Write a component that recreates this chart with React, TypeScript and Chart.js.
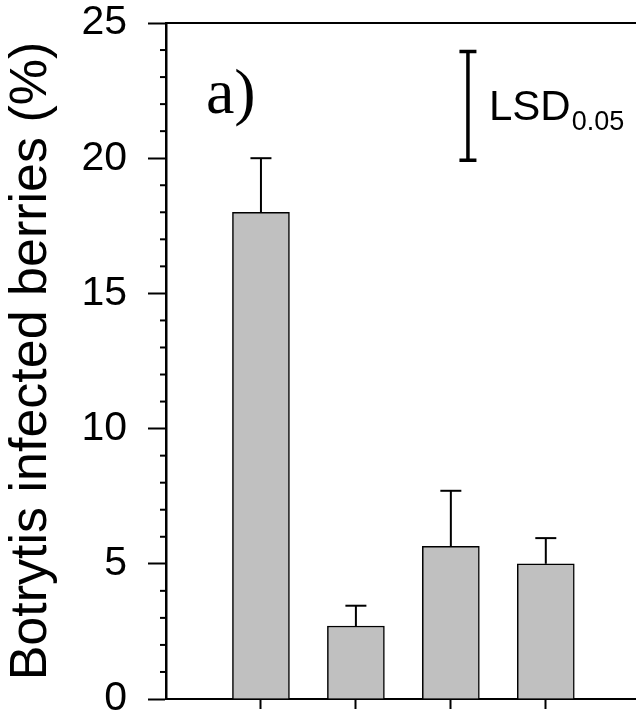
import React, { useEffect, useRef } from 'react';
import { Chart, registerables } from 'chart.js';

Chart.register(...registerables);

// ---- data ----
const positions = [1, 2, 3, 4];
const means = [18.0, 2.7, 5.65, 5.0];
const errors = [2.0, 0.75, 2.05, 0.95];
const yTickValues = [0, 5, 10, 15, 20, 25];
const yTitle = 'Botrytis infected berries (%)';
const panelLabel = 'a)';
const lsdLow = 19.92;
const lsdHigh = 23.95;
const lsdMain = 'LSD';
const lsdSub = '0.05';
// annotation anchor positions in data units
const lsdAt = 3.18;
const panelAt = { x: 0.42, y: 21.67 };

const SANS = "'Liberation Sans', Arial, Helvetica, sans-serif";
const SERIF = "'Liberation Serif', 'Times New Roman', serif";

const decor = {
  id: 'decor',
  afterDatasetsDraw(chart: any) {
    const ctx = chart.ctx as CanvasRenderingContext2D;
    const xs = chart.scales.x;
    const ys = chart.scales.y;
    const ca = chart.chartArea;
    ctx.save();
    ctx.strokeStyle = '#000';
    ctx.fillStyle = '#000';
    ctx.lineCap = 'butt';

    // minor y ticks
    ctx.lineWidth = 2;
    for (let v = ys.min; v <= ys.max; v += 1) {
      if (v % 5 === 0) continue;
      const py = ys.getPixelForValue(v);
      ctx.beginPath();
      ctx.moveTo(ca.left - 6, py);
      ctx.lineTo(ca.left, py);
      ctx.stroke();
    }

    // top frame
    ctx.beginPath();
    ctx.moveTo(ca.left, ca.top);
    ctx.lineTo(ca.right, ca.top);
    ctx.stroke();

    // error bars
    const meta = chart.getDatasetMeta(0);
    meta.data.forEach((bar: any, i: number) => {
      const px = bar.x;
      const yb = ys.getPixelForValue(means[i]);
      const yt = ys.getPixelForValue(means[i] + errors[i]);
      ctx.lineWidth = 2;
      ctx.beginPath();
      ctx.moveTo(px, yb);
      ctx.lineTo(px, yt);
      ctx.stroke();
      ctx.beginPath();
      ctx.moveTo(px - 10.5, yt);
      ctx.lineTo(px + 10.5, yt);
      ctx.stroke();
    });

    // LSD bar
    const lx = xs.getPixelForValue(lsdAt);
    const l1 = ys.getPixelForValue(lsdLow);
    const l2 = ys.getPixelForValue(lsdHigh);
    ctx.lineWidth = 3.5;
    ctx.beginPath();
    ctx.moveTo(lx, l1);
    ctx.lineTo(lx, l2);
    ctx.stroke();
    ctx.beginPath();
    ctx.moveTo(lx - 8.5, l1);
    ctx.lineTo(lx + 8.5, l1);
    ctx.moveTo(lx - 8.5, l2);
    ctx.lineTo(lx + 8.5, l2);
    ctx.stroke();

    // LSD text
    const mid = (l1 + l2) / 2;
    ctx.textAlign = 'left';
    ctx.textBaseline = 'alphabetic';
    ctx.font = `42px ${SANS}`;
    const tx = lx + 21;
    const baseMain = mid + 14.5;
    ctx.fillText(lsdMain, tx, baseMain);
    const w = ctx.measureText(lsdMain).width;
    ctx.font = `27px ${SANS}`;
    ctx.fillText(lsdSub, tx + w + 1, baseMain + 10);

    // panel label
    ctx.font = `64px ${SERIF}`;
    ctx.fillText(panelLabel, xs.getPixelForValue(panelAt.x), ys.getPixelForValue(panelAt.y));

    ctx.restore();
  },
};

export default function App() {
  const ref = useRef<HTMLCanvasElement | null>(null);
  useEffect(() => {
    if (!ref.current) return;
    const chart = new Chart(ref.current, {
      type: 'bar',
      data: {
        datasets: [
          {
            data: positions.map((p, i) => ({ x: p, y: means[i] })),
            backgroundColor: '#c0c0c0',
            borderColor: '#000',
            borderWidth: 1.5,
            barThickness: 57,
          },
        ],
      },
      options: {
        animation: false,
        responsive: false,
        maintainAspectRatio: false,
        layout: { padding: { top: 23, left: 0, right: 0, bottom: 0 } },
        plugins: { legend: { display: false }, tooltip: { enabled: false } },
        scales: {
          x: {
            type: 'linear',
            offset: false,
            min: 0,
            max: 4.95,
            afterBuildTicks: (s: any) => {
              s.ticks = positions.map((v) => ({ value: v }));
            },
            ticks: { display: false },
            grid: { offset: false, drawOnChartArea: false, drawTicks: true, tickLength: 10, tickWidth: 2, tickColor: '#000', color: '#000' },
            border: { display: true, color: '#000', width: 2 },
            afterFit: (s: any) => {
              s.height = 20;
            },
          },
          y: {
            min: 0,
            max: 25,
            afterBuildTicks: (s: any) => {
              s.ticks = yTickValues.map((v) => ({ value: v }));
            },
            ticks: { color: '#000', font: { family: SANS, size: 41 }, padding: 21 },
            grid: { drawOnChartArea: false, tickLength: 18, tickWidth: 2, tickColor: '#000', color: '#000' },
            border: { display: true, color: '#000', width: 2.5 },
            title: {
              display: true,
              text: yTitle,
              color: '#000',
              font: { family: SANS, size: 52, lineHeight: 1.2 },
              padding: { top: 0.5, bottom: 0 },
            },
            afterFit: (s: any) => {
              s.width = 166;
              s.paddingTop = 0;
              s.paddingBottom = 0;
            },
          },
        },
      },
      plugins: [decor],
    } as any);
    return () => chart.destroy();
  }, []);
  return (
    <div style={{ position: 'absolute', left: 0, top: 0, width: 636, height: 719, background: '#fff' }}>
      <canvas ref={ref} width={636} height={719} style={{ display: 'block' }} />
    </div>
  );
}
